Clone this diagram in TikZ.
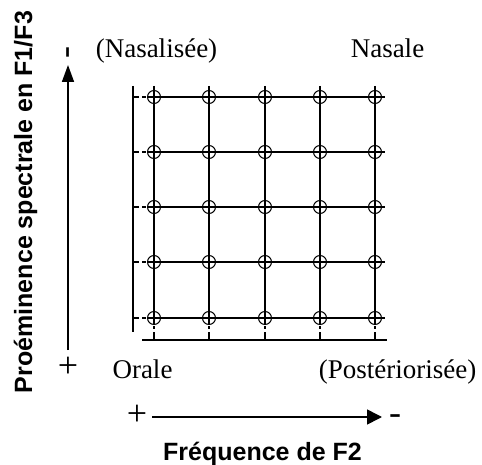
\documentclass[tikz,border=0pt]{standalone}
\usepackage{fontspec}
\setmainfont{Liberation Serif}
\newfontfamily\axisfont{Liberation Sans}
\usetikzlibrary{arrows.meta}
\begin{document}
\begin{tikzpicture}[x=1pt,y=-1pt,
  lbl/.style={font=\fontsize{27}{30}\selectfont, inner sep=0pt, anchor=base},
  ttl/.style={font=\axisfont\bfseries\fontsize{25}{28}\selectfont, inner sep=0pt, anchor=base},
  sgn/.style={font=\fontsize{36}{40}\selectfont, inner sep=0pt, anchor=base},
  gpt/.style={circle, draw, line width=1pt, minimum size=13pt, inner sep=0pt},
  gl/.style={line width=1.3pt},
  axisarrow/.style={line width=1.6pt, -{Triangle[length=17pt,width=12pt]}}
]
\useasboundingbox (0,0) rectangle (482,465);
% grid points
\foreach \i/\x in {1/154,2/209,3/265,4/320,5/375}{
  \foreach \j/\y in {1/97,2/152,3/207,4/262,5/318}{
    \node[gpt] (g-\i-\j) at (\x,\y) {};
  }
}
% rows
\foreach \j/\y in {1/97,2/152,3/207,4/262,5/318}{
  \coordinate (rl-\j) at (148,\y);
  \coordinate (rr-\j) at (385,\y);
  \coordinate (rd-\j) at (142,\y);
  \coordinate (re-\j) at (146,\y);
  \coordinate (rt-\j) at (133,\y);
  \coordinate (ru-\j) at (139,\y);
  \draw[gl] (rl-\j) -- (rr-\j);
  \draw[gl] (rd-\j) -- (re-\j);
  \draw[gl] (rt-\j) -- (ru-\j);
}
\draw[line width=2pt] (rl-1) -- (rr-1);
% columns
\foreach \i/\x in {1/154,2/209,3/265,4/320,5/375}{
  \coordinate (ct-\i) at (\x,86);
  \coordinate (cd-\i) at (\x,326);
  \coordinate (ce-\i) at (\x,329);
  \coordinate (cf-\i) at (\x,332);
  \coordinate (cg-\i) at (\x,340);
  \draw[gl] (ct-\i) -- (g-\i-5.south);
  \draw[gl] (cd-\i) -- (ce-\i);
  \draw[gl] (cf-\i) -- (cg-\i);
}
% left bar and bottom line
\coordinate (bartop) at (133,86);
\coordinate (barbot) at (133,332);
\draw[line width=1.8pt] (bartop) -- (barbot);
\coordinate (botl) at (142,340);
\coordinate (botr) at (387,340);
\draw[line width=2pt] (botl) -- (botr);
% labels
\node[lbl] (nasalisee) at (156.5,58) {(Nasalisée)};
\node[lbl] (nasale) at (387.5,58) {Nasale};
\node[lbl] (orale) at (142.5,378) {Orale};
\node[lbl] (posterio) at (397.5,378) {(Postériorisée)};
\node[sgn] (yplus) at (68,377) {+};
\node[sgn, rotate=90] (yminus) at (76,53) {-};
\node[sgn] (xplus) at (137,425) {+};
\node[sgn] (xminus) at (395,424.5) {-};
\node[ttl, rotate=90] (ytitle) at (32,202) {Proéminence spectrale en F1/F3};
\node[ttl] (xtitle) at (262.5,460) {Fréquence de F2};
% axes
\coordinate (ybot) at (68,350);
\coordinate (ytop) at (68,65);
\draw[axisarrow] (ybot) -- (ytop);
\coordinate (xl) at (152,417);
\coordinate (xr) at (382,417);
\draw[line width=1.6pt, -{Triangle[length=15pt,width=15pt]}] (xl) -- (xr);
\end{tikzpicture}
\end{document}
